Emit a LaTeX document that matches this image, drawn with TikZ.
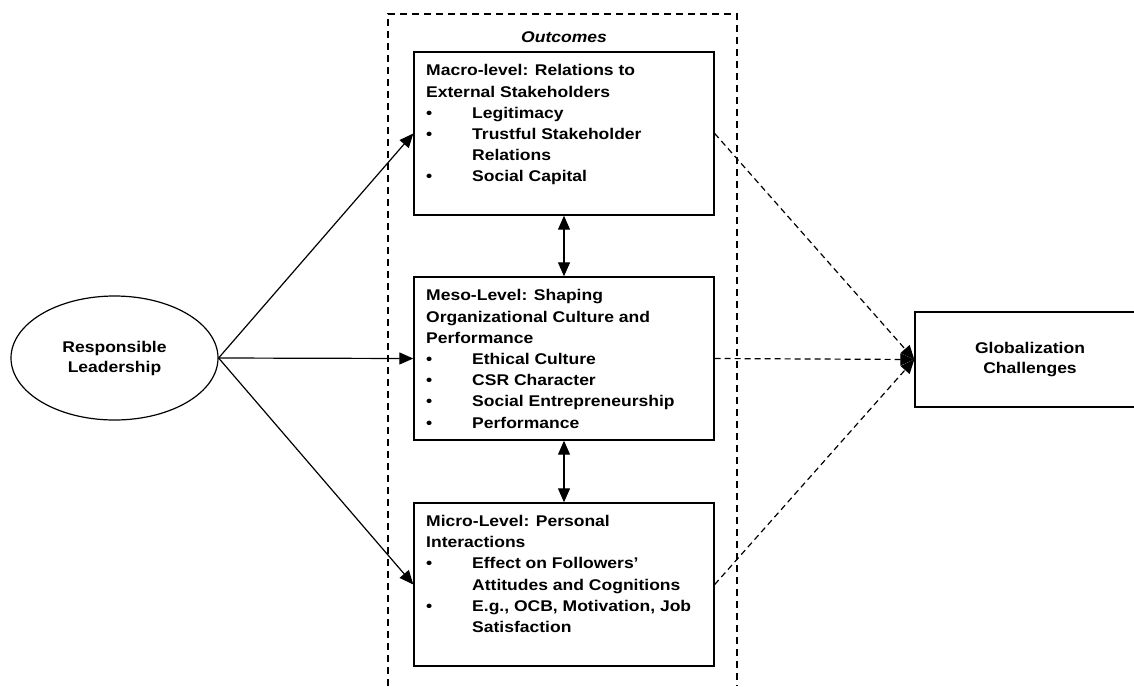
\documentclass[tikz,border=0pt]{standalone}
\usepackage{fontspec}
\setmainfont{Liberation Sans}
\newfontfamily\wfont{Liberation Sans}[FakeStretch=1.13]
\usetikzlibrary{shapes.geometric,arrows.meta}
\newcommand{\bitem}[1]{\makebox[46pt][l]{\textbullet}#1}
\newcommand{\bcont}[1]{\hspace*{46pt}#1}
\tikzset{
  levelbox/.style={draw, line width=1.4pt, minimum width=300pt, minimum height=163pt, inner sep=0pt},
  leveltext/.style={anchor=north west, inner sep=0pt, align=left, font=\wfont\fontsize{15.5}{21.2}\selectfont\bfseries},
  solidarrow/.style={line width=1.2pt, -{Triangle[length=14pt,width=12pt]}},
  dasharrow/.style={line width=1.2pt, dash pattern=on 6pt off 4pt, -{Triangle[length=14pt,width=12pt]}},
  botharrow/.style={line width=1.2pt, {Triangle[length=14pt,width=12pt]}-{Triangle[length=14pt,width=12pt]}},
}
\begin{document}
\begin{tikzpicture}[x=1pt,y=-1pt]
\useasboundingbox (0,0) rectangle (1134,686);
% outer dashed frame
\draw[line width=1.4pt, dash pattern=on 7pt off 5pt] (388,686) -- (388,14) -- (737,14) -- (737,686);
\node[font=\wfont\fontsize{15.5}{17}\selectfont\bfseries\itshape] (outc) at (564,37) {Outcomes};

\node[levelbox] (macro) at (564,133.5) {};
\node[levelbox] (meso) at (564,358.5) {};
\node[levelbox] (micro) at (564,584.5) {};

\node[leveltext] (macrot) at (426,64.5) {Macro-level: Relations to\\External Stakeholders\\\bitem{Legitimacy}\\\bitem{Trustful Stakeholder}\\\bcont{Relations}\\\bitem{Social Capital}};
\node[leveltext] (mesot) at (426,289.5) {Meso-Level: Shaping\\Organizational Culture and\\Performance\\\bitem{Ethical Culture}\\\bitem{CSR Character}\\\bitem{Social Entrepreneurship}\\\bitem{Performance}};
\node[leveltext] (microt) at (426,515) {Micro-Level: Personal\\Interactions\\\bitem{Effect on Followers’}\\\bcont{Attitudes and Cognitions}\\\bitem{E.g., OCB, Motivation, Job}\\\bcont{Satisfaction}};

\node[draw, ellipse, line width=1.2pt, minimum width=207pt, minimum height=124pt, inner sep=0pt, align=center, font=\wfont\fontsize{15.5}{20}\selectfont\bfseries] (rl) at (114.5,358) {Responsible\\Leadership};

\node[draw, line width=1.4pt, minimum width=230pt, minimum height=95pt, inner sep=0pt, align=center, font=\wfont\fontsize{15.5}{20}\selectfont\bfseries] (glob) at (1030,359.5) {Globalization\\Challenges};

\draw[solidarrow] (rl.east) -- (macro.west);
\draw[solidarrow] (rl.east) -- (meso.west);
\draw[solidarrow] (rl.east) -- (micro.west);

\draw[botharrow] (macro.south) -- (meso.north);
\draw[botharrow] (meso.south) -- (micro.north);

\draw[dasharrow] (macro.east) -- (glob.west);
\draw[dasharrow] (meso.east) -- (glob.west);
\draw[dasharrow] (micro.east) -- (glob.west);
\end{tikzpicture}
\end{document}
